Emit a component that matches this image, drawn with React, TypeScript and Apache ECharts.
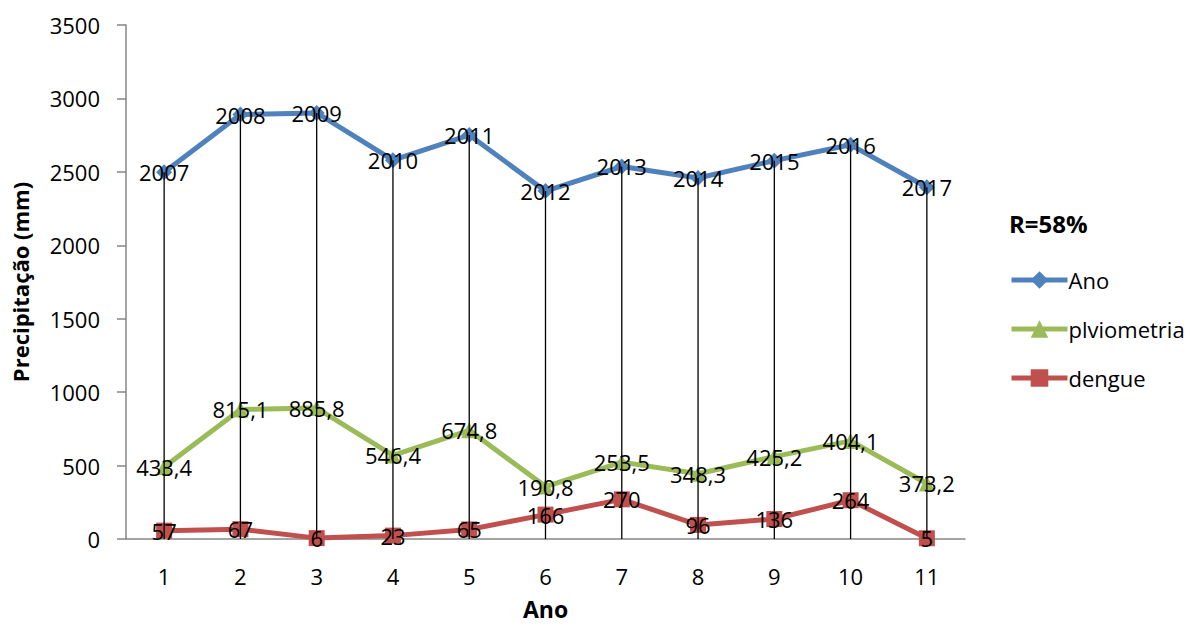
import React, { useEffect, useRef } from "react";
import * as echarts from "echarts";

const categories = ["1", "2", "3", "4", "5", "6", "7", "8", "9", "10", "11"];
const anoValues = [2007, 2008, 2009, 2010, 2011, 2012, 2013, 2014, 2015, 2016, 2017];
const pluvValues = [433.4, 815.1, 885.8, 546.4, 674.8, 190.8, 253.5, 348.3, 425.2, 404.1, 373.2];
const dengueValues = [57, 67, 6, 23, 65, 166, 270, 96, 136, 264, 5];
const yTicks = { min: 0, max: 3500, interval: 500 };

const FONT = "Open Sans";
const fmt = (v: number) => String(v).replace(".", ",");

export default function App() {
  const ref = useRef<HTMLDivElement>(null);
  useEffect(() => {
    if (!ref.current) return;
    const chart = echarts.init(ref.current, undefined, { renderer: "svg" });
    const totals = anoValues.map((a, i) => a + pluvValues[i] + dengueValues[i]);
    const label = {
      show: true,
      position: "inside" as const,
      color: "#000",
      fontSize: 22,
      fontFamily: FONT,
      formatter: (p: any) => fmt(p.value),
    };
    chart.setOption({
      animation: false,
      textStyle: { fontFamily: FONT },
      grid: { left: 126, right: 235, top: 25, bottom: 86, outerBoundsMode: "none", containLabel: false },
      legend: {
        data: ["Ano", "plviometria", "dengue"],
        orient: "vertical",
        left: 1004,
        top: 264,
        itemWidth: 56,
        itemHeight: 22,
        itemGap: 27,
        lineStyle: { width: 5 },
        textStyle: { fontSize: 22, fontFamily: FONT, color: "#000", padding: [0, 0, 0, -4] },
      },
      graphic: [
        {
          type: "text",
          left: 1009,
          top: 211,
          style: { text: "R=58%", font: `bold 24px ${FONT}`, fill: "#000" },
        },
      ],
      xAxis: {
        type: "category",
        data: categories,
        name: "Ano",
        nameLocation: "middle",
        nameGap: 58,
        nameTextStyle: { fontSize: 23, fontWeight: "bold", color: "#000", fontFamily: FONT },
        axisLine: { lineStyle: { color: "#868686", width: 1.5 } },
        axisTick: { show: false },
        axisLabel: { fontSize: 22, color: "#000", margin: 26, fontFamily: FONT },
      },
      yAxis: {
        type: "value",
        min: yTicks.min,
        max: yTicks.max,
        interval: yTicks.interval,
        name: "Precipitação (mm)",
        nameLocation: "middle",
        nameGap: 95,
        nameTextStyle: { fontSize: 22, fontWeight: "bold", color: "#000", fontFamily: FONT },
        axisLine: { show: true, lineStyle: { color: "#868686", width: 1.5 } },
        axisTick: { show: true, length: 9, lineStyle: { color: "#868686", width: 1.5 } },
        splitLine: { show: false },
        axisLabel: {
          fontSize: 22,
          color: "#000",
          margin: 26,
          fontFamily: FONT,
          formatter: (v: number) => String(v),
        },
      },
      series: [
        {
          name: "dengue",
          type: "line",
          stack: "total",
          data: dengueValues,
          symbol: "rect",
          symbolSize: 16,
          lineStyle: { color: "#C0504D", width: 5 },
          itemStyle: { color: "#C0504D" },
          label,
          z: 2,
        },
        {
          name: "plviometria",
          type: "line",
          stack: "total",
          data: pluvValues,
          symbol: "triangle",
          symbolSize: 16,
          lineStyle: { color: "#9BBB59", width: 5 },
          itemStyle: { color: "#9BBB59" },
          label,
          z: 2,
        },
        {
          name: "Ano",
          type: "line",
          stack: "total",
          data: anoValues,
          symbol: "diamond",
          symbolSize: 16,
          lineStyle: { color: "#4F81BD", width: 5 },
          itemStyle: { color: "#4F81BD" },
          label,
          z: 2,
        },
        {
          name: "drop",
          type: "custom",
          data: totals.map((t, i) => [i, t]),
          silent: true,
          z: 3,
          renderItem: (params: any, api: any) => {
            const top = api.coord([api.value(0), api.value(1)]);
            const bottom = api.coord([api.value(0), 0]);
            return {
              type: "line",
              shape: { x1: top[0], y1: top[1], x2: bottom[0], y2: bottom[1] },
              style: { stroke: "#000", lineWidth: 1.3 },
            };
          },
        },
      ],
    });
    return () => chart.dispose();
  }, []);
  return (
    <div
      ref={ref}
      style={{ position: "fixed", left: 0, top: 0, width: 1200, height: 625, background: "#fff" }}
    />
  );
}
